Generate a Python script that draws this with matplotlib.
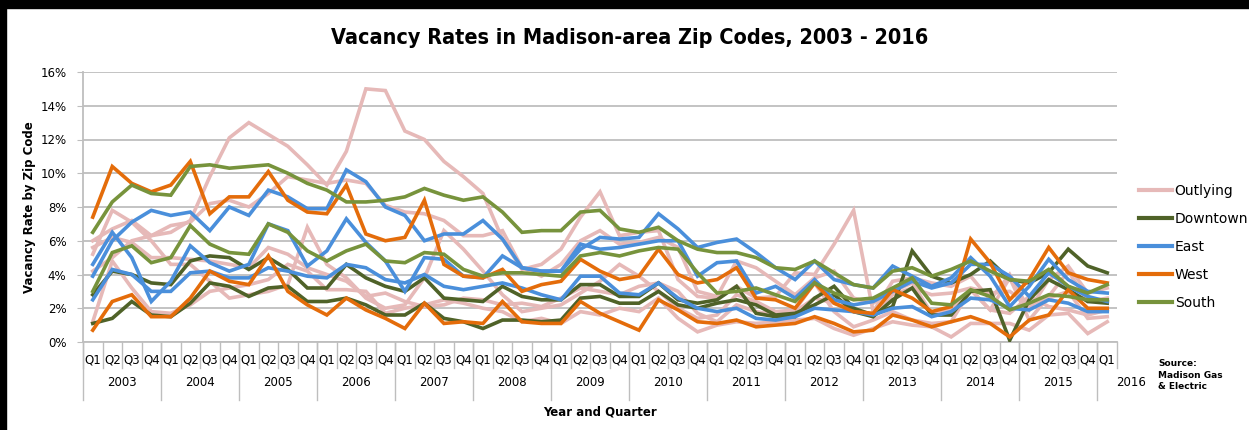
import matplotlib.pyplot as plt
from matplotlib.lines import Line2D

years = ['2003', '2004', '2005', '2006', '2007', '2008', '2009', '2010',
         '2011', '2012', '2013', '2014', '2015', '2016']
quarters = ['Q1', 'Q2', 'Q3', 'Q4'] * 13 + ['Q1']

# Outlying zip codes
outlying_1 = [6.0, 6.7, 7.2, 6.3, 6.5, 7.2, 9.8, 12.1, 13.0, 12.3, 11.6, 10.5,
              9.3, 11.3, 15.0, 14.9, 12.5, 12.0, 10.7, 9.8, 8.8, 6.1, 4.3, 4.6,
              5.5, 7.4, 8.9, 6.3, 6.5, 6.6, 3.7, 2.7, 2.6, 3.3, 2.6, 2.7,
              4.1, 4.0, 5.8, 7.8, 1.8, 3.6, 3.8, 3.5, 3.3, 3.9, 2.5, 4.0,
              1.9, 3.7, 4.5, 2.9, 3.2]
outlying_2 = [4.2, 5.0, 6.0, 6.3, 6.9, 7.1, 8.2, 8.4, 8.0, 8.8, 9.8, 9.6,
              9.4, 9.6, 9.4, 8.1, 7.7, 7.6, 7.2, 6.3, 6.3, 6.6, 4.4, 3.9,
              4.6, 6.0, 6.6, 5.8, 5.9, 6.2, 5.6, 3.0, 2.7, 4.8, 4.4, 3.6,
              2.8, 3.8, 4.2, 2.6, 2.3, 3.0, 3.5, 1.7, 1.9, 3.1, 1.9, 3.8,
              1.3, 2.7, 4.2, 2.4, 2.6]
outlying_3 = [5.2, 7.8, 7.1, 6.0, 4.6, 4.6, 3.6, 2.6, 2.8, 3.0, 3.4, 6.8,
              4.6, 3.8, 2.6, 2.0, 2.2, 3.8, 6.6, 5.5, 4.2, 2.8, 1.8, 2.0,
              2.2, 2.9, 3.6, 4.6, 3.9, 3.0, 2.0, 1.4, 1.6, 2.8, 2.4, 1.8,
              1.9, 3.5, 1.8, 0.9, 1.3, 1.8, 1.3, 1.1, 1.2, 3.1, 1.9, 1.7,
              2.7, 2.1, 1.9, 1.6, 1.9]
outlying_4 = [1.2, 4.8, 3.2, 1.8, 1.7, 2.2, 3.0, 3.2, 3.4, 3.7, 4.6, 4.2,
              3.1, 3.1, 3.0, 1.7, 2.0, 2.2, 2.5, 2.3, 2.0, 1.8, 1.2, 1.4,
              1.1, 1.8, 1.6, 2.0, 1.8, 2.6, 1.4, 0.6, 1.0, 1.2, 1.1, 1.2,
              1.3, 1.4, 0.8, 0.4, 0.8, 1.2, 1.0, 0.9, 0.3, 1.1, 1.1, 1.1,
              0.7, 1.6, 1.7, 0.5, 1.2]
outlying_5 = [5.6, 6.2, 5.9, 5.0, 5.0, 4.9, 4.8, 4.6, 4.4, 5.6, 5.2, 4.4,
              4.0, 3.6, 2.7, 2.9, 2.4, 2.1, 2.2, 2.6, 2.5, 2.2, 2.3, 2.1,
              2.6, 3.2, 3.0, 2.8, 3.3, 3.5, 3.0, 1.7, 1.2, 2.2, 1.8, 1.6,
              1.8, 2.6, 2.3, 1.9, 1.5, 2.8, 3.2, 2.8, 2.9, 3.2, 2.9, 3.0,
              2.2, 2.6, 3.0, 1.4, 1.5]

# Downtown
downtown_1 = [2.8, 4.2, 4.0, 3.5, 3.4, 4.8, 5.1, 5.0, 4.3, 5.0, 4.3, 3.2,
              3.2, 4.6, 3.8, 3.3, 3.0, 3.8, 2.6, 2.5, 2.4, 3.3, 2.7, 2.5,
              2.5, 3.4, 3.4, 2.7, 2.7, 3.5, 2.5, 2.3, 2.5, 3.3, 1.7, 1.5,
              1.5, 2.6, 3.3, 2.0, 1.6, 2.1, 5.4, 3.9, 3.5, 4.0, 4.8, 3.7,
              3.5, 4.1, 5.5, 4.5, 4.1]
downtown_2 = [1.1, 1.4, 2.4, 1.6, 1.5, 2.3, 3.5, 3.3, 2.7, 3.2, 3.3, 2.4,
              2.4, 2.6, 2.2, 1.6, 1.6, 2.3, 1.4, 1.2, 0.8, 1.3, 1.3, 1.2,
              1.3, 2.6, 2.7, 2.3, 2.3, 3.0, 2.2, 2.0, 2.3, 2.5, 2.2, 1.6,
              1.7, 2.2, 2.8, 1.8, 1.5, 2.5, 3.2, 1.6, 1.6, 3.0, 3.1, 0.1,
              2.5, 3.7, 3.1, 2.4, 2.3]

# East
east_1 = [3.9, 6.0, 7.1, 7.8, 7.5, 7.7, 6.6, 8.0, 7.5, 9.0, 8.6, 7.9,
          7.9, 10.2, 9.5, 8.0, 7.5, 6.0, 6.4, 6.4, 7.2, 6.1, 4.4, 4.2,
          4.2, 5.5, 6.2, 6.1, 6.2, 7.6, 6.7, 5.6, 5.9, 6.1, 5.3, 4.4,
          3.7, 4.8, 3.7, 3.4, 3.2, 4.5, 3.9, 3.3, 3.8, 5.0, 3.9, 2.1,
          3.3, 4.9, 3.7, 3.0, 2.9]
east_2 = [4.6, 6.5, 5.0, 2.4, 3.6, 5.7, 4.7, 4.2, 4.6, 7.0, 6.6, 4.5,
          5.4, 7.3, 5.9, 4.8, 3.0, 5.0, 4.9, 3.9, 3.8, 5.1, 4.4, 4.2,
          4.2, 5.8, 5.5, 5.6, 5.8, 6.0, 6.0, 3.9, 4.7, 4.8, 2.9, 3.3,
          2.6, 3.7, 2.5, 2.2, 2.4, 3.0, 3.6, 3.2, 3.5, 4.6, 4.6, 3.9,
          2.7, 4.1, 3.3, 2.7, 2.4]
east_3 = [2.5, 4.3, 4.0, 3.0, 3.0, 4.1, 4.2, 3.8, 3.8, 4.4, 4.2, 3.9,
          3.8, 4.6, 4.4, 3.7, 3.5, 4.0, 3.3, 3.1, 3.3, 3.5, 3.2, 2.8,
          2.5, 3.9, 3.9, 2.9, 2.8, 3.5, 2.6, 2.0, 1.8, 2.0, 1.4, 1.3,
          1.5, 2.0, 1.9, 1.8, 1.6, 2.0, 2.1, 1.5, 1.8, 2.6, 2.5, 2.0,
          1.9, 2.5, 2.3, 1.8, 1.8]

# West
west_1 = [7.4, 10.4, 9.4, 8.9, 9.3, 10.7, 7.6, 8.6, 8.6, 10.1, 8.4, 7.7,
          7.6, 9.3, 6.4, 6.0, 6.2, 8.4, 4.6, 3.9, 3.8, 4.3, 3.0, 3.4,
          3.6, 4.9, 4.2, 3.7, 3.9, 5.5, 4.0, 3.5, 3.7, 4.4, 2.6, 2.5,
          2.0, 3.5, 2.3, 1.8, 1.7, 3.1, 2.6, 1.8, 2.1, 6.1, 4.7, 2.5,
          3.7, 5.6, 4.1, 3.7, 3.5]
west_2 = [0.7, 2.4, 2.8, 1.5, 1.5, 2.6, 4.2, 3.6, 3.4, 5.1, 3.0, 2.2,
          1.6, 2.6, 1.9, 1.4, 0.8, 2.3, 1.1, 1.2, 1.1, 2.4, 1.2, 1.1,
          1.1, 2.4, 1.7, 1.2, 0.7, 2.5, 1.9, 1.2, 1.1, 1.3, 0.9, 1.0,
          1.1, 1.5, 1.1, 0.6, 0.7, 1.6, 1.3, 0.9, 1.2, 1.5, 1.1, 0.3,
          1.3, 1.6, 3.1, 2.0, 2.0]

# South
south_1 = [6.5, 8.3, 9.3, 8.8, 8.7, 10.4, 10.5, 10.3, 10.4, 10.5, 10.0, 9.4,
           9.0, 8.3, 8.3, 8.4, 8.6, 9.1, 8.7, 8.4, 8.6, 7.7, 6.5, 6.6,
           6.6, 7.7, 7.8, 6.7, 6.5, 6.8, 6.0, 5.5, 5.3, 5.3, 5.0, 4.4,
           4.3, 4.8, 4.1, 3.4, 3.2, 4.2, 4.4, 3.9, 4.3, 4.8, 4.2, 3.7,
           3.6, 4.3, 3.3, 2.9, 3.4]
south_2 = [3.0, 5.3, 5.7, 4.7, 5.0, 6.9, 5.8, 5.3, 5.2, 7.0, 6.5, 5.4,
           4.8, 5.4, 5.8, 4.8, 4.7, 5.3, 5.2, 4.3, 3.9, 4.1, 4.1, 4.0,
           3.9, 5.1, 5.3, 5.1, 5.4, 5.6, 5.5, 4.1, 2.9, 3.0, 3.2, 2.8,
           2.4, 3.5, 2.9, 2.5, 2.6, 3.2, 3.8, 2.3, 2.2, 3.1, 2.7, 1.9,
           2.3, 2.8, 2.7, 2.5, 2.5]

groups = ['Outlying', 'Downtown', 'East', 'West', 'South']
colors = ['#E6B9B8', '#4F6228', '#4A8FDB', '#E46C0A', '#77933C']
series = [
    [outlying_1, outlying_2, outlying_3, outlying_4, outlying_5],
    [downtown_1, downtown_2],
    [east_1, east_2, east_3],
    [west_1, west_2],
    [south_1, south_2],
]

fig = plt.figure(figsize=(12.49, 4.30), dpi=100)
ax = fig.add_axes([83 / 1249, 1 - 342 / 430, (1117 - 83) / 1249, 270 / 430])

x = list(range(len(quarters)))
for grp, col, lines in zip(groups, colors, series):
    for vals in lines:
        ax.plot(x, vals, color=col, lw=2.6, solid_joinstyle='miter', zorder=3)

ax.set_xlim(-0.5, len(quarters) - 0.5)
ax.set_ylim(0, 16)
ax.set_yticks(range(0, 17, 2))
ax.set_yticklabels([f'{v}%' for v in range(0, 17, 2)], fontsize=8.5)
ax.yaxis.grid(True, color='#BEBEBE', lw=1.3)
ax.set_axisbelow(True)
ax.tick_params(axis='y', length=4, color='#BEBEBE', pad=8)
ax.set_xticks([])
for s in ['top', 'right']:
    ax.spines[s].set_visible(False)
ax.spines['left'].set_color('#BEBEBE')
ax.spines['bottom'].set_color('#BEBEBE')
ax.spines['left'].set_linewidth(1.3)
ax.spines['bottom'].set_linewidth(1.3)

# two level category axis
trans = ax.get_xaxis_transform()
for i, q in enumerate(quarters):
    ax.text(i, -0.065, q, transform=trans, ha='center', va='center', fontsize=8.5,
            clip_on=False)
for b in range(len(quarters) + 1):
    ax.plot([b - 0.5, b - 0.5], [0, -0.095], transform=trans, color='#BEBEBE',
            lw=1, clip_on=False)
for k, yr in enumerate(years):
    if k < 13:
        ax.text(4 * k + 1.5, -0.15, yr, transform=trans, ha='center', va='center',
                fontsize=8.5, clip_on=False)
    ax.plot([4 * k - 0.5, 4 * k - 0.5], [0, -0.215], transform=trans, color='#BEBEBE',
            lw=1, clip_on=False)
ax.text(53.2, -0.15, years[-1], transform=trans, ha='center', va='center',
        fontsize=8.5, clip_on=False)

fig.text(630 / 1249, 1 - 38 / 430, 'Vacancy Rates in Madison-area Zip Codes, 2003 - 2016',
         ha='center', va='center', fontsize=15.5, fontweight='bold', fontstretch='condensed')
fig.text(30 / 1249, 1 - 207 / 430, 'Vacancy Rate by Zip Code', rotation=90,
         ha='center', va='center', fontsize=8.5, fontweight='bold')
fig.text(600 / 1249, 1 - 412 / 430, 'Year and Quarter', ha='center', va='center',
         fontsize=8.5, fontweight='bold')
fig.text(1158 / 1249, 1 - 375 / 430, 'Source:\nMadison Gas\n& Electric', ha='left',
         va='center', fontsize=6.5, fontweight='bold', linespacing=1.3)

handles = [Line2D([0], [0], color=c, lw=3) for c in colors]
fig.legend(handles, groups, loc='center left', bbox_to_anchor=(1133 / 1249, 1 - 247 / 430),
           frameon=False, fontsize=10, handlelength=2.4, handletextpad=0.2,
           labelspacing=1.0, borderaxespad=0)

# black frame on left and top
fig.add_artist(plt.Rectangle((0, 0), 6 / 1249, 1, transform=fig.transFigure,
                             color='black', zorder=10))
fig.add_artist(plt.Rectangle((0, 1 - 8 / 430), 1, 8 / 430, transform=fig.transFigure,
                             color='black', zorder=10))

fig.savefig('out.png', dpi=100)
